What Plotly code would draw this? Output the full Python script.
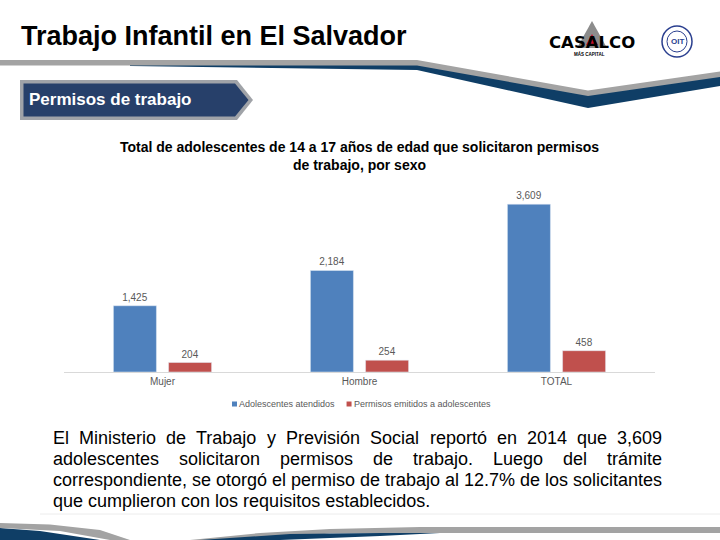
import plotly.graph_objects as go

# ---------------- data ----------------
categories = ["Mujer", "Hombre", "TOTAL"]
atendidos = [1425, 2184, 3609]
permisos = [204, 254, 458]
series_names = ["Adolescentes atendidos", "Permisos emitidos a adolescentes"]

slide_title = "Trabajo Infantil en El Salvador"
section_label = "Permisos de trabajo"
chart_title = ("Total de adolescentes de 14 a 17 años de edad que solicitaron permisos"
               "<br>de trabajo, por sexo")
body_lines = [
    "El Ministerio de Trabajo y Previsión Social reportó en 2014 que 3,609",
    "adolescentes solicitaron permisos de trabajo. Luego del trámite",
    "correspondiente, se otorgó el permiso de trabajo al 12.7% de los solicitantes",
    "que cumplieron con los requisitos establecidos.",
]

W, H = 720, 540
FONT = "Arial, Liberation Sans, sans-serif"
BLUE = "#4f81bd"
RED = "#c0504d"
NAVY = "#0f3e66"
GRAY = "#a3a3a3"
colors = [BLUE, RED]

fig = go.Figure()
for vals, name, col in zip([atendidos, permisos], series_names, colors):
    fig.add_trace(go.Bar(
        x=categories, y=vals, name=name, marker_color=col,
        texttemplate="%{y:,}", textposition="outside", cliponaxis=False,
        textfont=dict(size=10, color="#595959", family=FONT), showlegend=False))

def px(x):
    return x / W

def py(y):
    return 1 - y / H

def path(points):
    return "M " + " L ".join(f"{px(x):.5f},{py(y):.5f}" for x, y in points) + " Z"

shapes = []
def poly(points, color):
    shapes.append(dict(type="path", xref="paper", yref="paper", path=path(points),
                       fillcolor=color, line=dict(color=color, width=0), layer="above"))

def rect(x0, y0, x1, y1, color):
    shapes.append(dict(type="rect", xref="paper", yref="paper", x0=px(x0), x1=px(x1),
                       y0=py(y1), y1=py(y0), fillcolor=color, line=dict(width=0),
                       layer="above"))

# header swoosh
poly([(130, 65), (417, 64.5), (588, 95), (720, 76), (720, 86), (588, 108), (417, 70), (130, 66)], NAVY)
poly([(0, 60), (417, 60), (588, 90.5), (720, 71.5), (720, 77), (588, 96), (417, 65.5), (0, 65.5)], GRAY)

# section badge
poly([(20, 80), (237, 80), (253, 100), (237, 120), (20, 120)], "#a0a3a8")
poly([(23.5, 83.5), (235, 83.5), (248.5, 100), (235, 116.5), (23.5, 116.5)], "#27406a")

# bottom swoosh
shapes.append(dict(type="line", xref="paper", yref="paper", x0=px(40), y0=py(514),
                   x1=px(720), y1=py(514), line=dict(color="#ececec", width=1), layer="above"))
poly([(0, 528), (40, 531), (100, 540), (0, 540)], NAVY)
poly([(0, 523), (50, 524.5), (100, 530), (130, 540), (110, 540), (60, 531), (0, 528)], GRAY)
poly([(190, 540), (260, 533), (330, 529), (420, 527), (720, 527), (720, 533),
      (420, 533), (330, 533.5), (250, 540)], GRAY)
poly([(200, 540), (290, 534), (380, 533), (440, 533), (380, 536), (280, 540)], NAVY)

# CASALCO logo (approximation)
poly([(592, 21), (607, 48), (577, 48)], "#8c8c8c")
poly([(592, 34), (598, 45), (586, 45)], "#c8102e")

# ILO logo (approximation)
shapes.append(dict(type="circle", xref="paper", yref="paper", x0=px(662), y0=py(57),
                   x1=px(692), y1=py(26), line=dict(color="#2a3f8f", width=1.5), layer="above"))
shapes.append(dict(type="circle", xref="paper", yref="paper", x0=px(667), y0=py(52),
                   x1=px(687), y1=py(31), line=dict(color="#2a3f8f", width=1), layer="above"))

annotations = []
def txt(x, y, s, size, color="#000000", bold=False, xanchor="left", yanchor="middle",
        family=FONT, align="left"):
    annotations.append(dict(
        x=px(x), y=py(y), xref="paper", yref="paper", text=(f"<b>{s}</b>" if bold else s),
        showarrow=False, xanchor=xanchor, yanchor=yanchor, align=align,
        borderpad=0, borderwidth=0,
        font=dict(size=size, color=color, family=family)))

txt(21, 36, slide_title, 27, bold=True)
txt(29, 99, section_label, 17, color="#ffffff", bold=True)
txt(359, 156, chart_title, 14, bold=True, xanchor="center", align="center")
txt(592, 43, "CASALCO", 16.5, bold=True, xanchor="center", family="DejaVu Sans, Arial")
txt(589, 54, "MÁS CAPITAL", 4.5, bold=True, xanchor="center")
txt(677, 41.5, "OIT", 8, color="#2a3f8f", bold=True, xanchor="center")

# Arial advance widths (per 1000 em) for text layout
AW = {" ": 278, ",": 278, ".": 278, "%": 889,
      "A": 667, "B": 667, "C": 722, "D": 722, "E": 667, "F": 611, "G": 778, "H": 722,
      "I": 278, "J": 500, "K": 667, "L": 556, "M": 833, "N": 722, "O": 778, "P": 667,
      "Q": 778, "R": 722, "S": 667, "T": 611, "U": 722, "V": 667, "W": 944, "X": 667,
      "Y": 667, "Z": 611,
      "a": 556, "b": 556, "c": 500, "d": 556, "e": 556, "f": 278, "g": 556, "h": 556,
      "i": 222, "j": 222, "k": 500, "l": 222, "m": 833, "n": 556, "o": 556, "p": 556,
      "q": 556, "r": 333, "s": 500, "t": 278, "u": 556, "v": 500, "w": 722, "x": 500,
      "y": 500, "z": 500, "á": 556, "é": 556, "í": 278, "ó": 556, "ú": 556, "ñ": 556}
for d in "0123456789":
    AW[d] = 556

def width(s, size):
    return sum(AW.get(c, 556) for c in s) * size / 1000.0

# legend (square swatch + label per series)
LEG_SIZE = 9
LEG_Y = 404
lx = 232
for name, col in zip(series_names, colors):
    rect(lx, LEG_Y - 2.5, lx + 5, LEG_Y + 2.5, col)
    txt(lx + 7, LEG_Y, name, LEG_SIZE, color="#595959")
    lx += 7 + width(name, LEG_SIZE) + 12

# justified body text
BODY_SIZE = 18
LEFT, RIGHT = 53, 662
for i, line in enumerate(body_lines):
    y = 438 + i * 21
    if i == len(body_lines) - 1:
        txt(LEFT, y, line, BODY_SIZE)
        continue
    words = line.split()
    total = sum(width(w, BODY_SIZE) for w in words)
    gap = (RIGHT - LEFT - total) / (len(words) - 1)
    x = LEFT
    for j, w in enumerate(words):
        if j == len(words) - 1:
            txt(RIGHT, y, w, BODY_SIZE, xanchor="right")
        else:
            txt(x, y, w, BODY_SIZE)
        x += width(w, BODY_SIZE) + gap

fig.update_layout(
    width=W, height=H, margin=dict(l=0, r=0, t=0, b=0),
    paper_bgcolor="white", plot_bgcolor="white",
    barmode="group", bargap=0.44, bargroupgap=0.22,
    font=dict(family=FONT, color="#595959"),
    showlegend=False,
    xaxis=dict(domain=[64 / W, 655 / W], showline=True, linecolor="#d9d9d9", linewidth=1,
               ticks="", tickfont=dict(size=10, color="#595959", family=FONT),
               showgrid=False, zeroline=False, fixedrange=True),
    yaxis=dict(domain=[1 - 372 / H, 1 - 186 / H], range=[0, 4000], visible=False,
               showgrid=False, zeroline=False, fixedrange=True),
    shapes=shapes, annotations=annotations,
)

fig.write_html("out.html")
